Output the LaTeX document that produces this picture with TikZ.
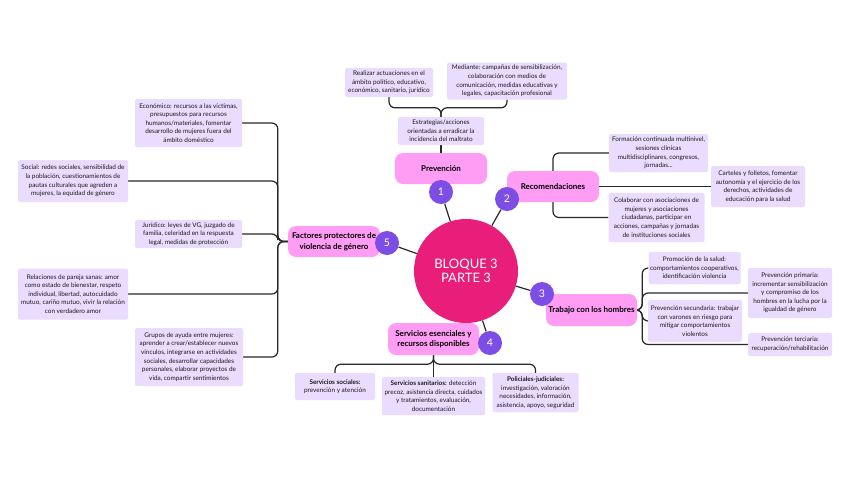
\documentclass[tikz,border=0pt]{standalone}
\usepackage{fontspec}
\setmainfont{Lato}
\definecolor{lav}{RGB}{234,220,255}
\definecolor{pinkb}{RGB}{255,156,244}
\definecolor{purp}{RGB}{124,78,230}
\definecolor{ctrpink}{RGB}{233,30,122}
\definecolor{lineg}{RGB}{40,40,40}
\pgfdeclarelayer{bg}
\pgfsetlayers{bg,main}
\begin{document}
\begin{tikzpicture}[x=1pt,y=-1pt,
  sub/.style={fill=lav, rounded corners=1.5pt, align=center, font=\fontsize{6.4}{8.6}\selectfont, inner sep=0.5pt, text=black!90},
  mainbox/.style={fill=pinkb, rounded corners=8pt, align=center, font=\fontsize{8}{10.5}\selectfont\bfseries, inner sep=0pt},
  num/.style={circle, fill=purp, minimum size=24pt, inner sep=0pt, text=white, font=\fontsize{10.5}{10.5}\selectfont},
  conn/.style={draw=lineg, line width=1.2pt, rounded corners=6pt},
  spoke/.style={draw=lineg, line width=1.2pt},
  sz/.style 2 args={minimum width=#1pt, minimum height=#2pt}]
\path[use as bounding box] (0,0) rectangle (848,477);

% central
\node[circle, fill=ctrpink, minimum size=104pt, inner sep=0pt, text=white, align=center,
  font=\fontsize{13}{13.5}\selectfont] (ctr) at (466,271) {BLOQUE 3\\PARTE 3};

% main boxes
\node[mainbox, sz={92}{31}] (prev) at (441,168.5) {Prevención};
\node[mainbox, sz={92}{31}] (rec) at (553,186.5) {Recomendaciones};
\node[mainbox, sz={91}{32}] (trab) at (591.5,310) {Trabajo con los hombres};
\node[mainbox, sz={91}{32}] (serv) at (433.5,339) {Servicios esenciales y\\recursos disponibles};
\node[mainbox, sz={92}{31}] (fact) at (334,241.5) {Factores protectores de\\violencia de género};

% number circles
\node[num] (c1) at (441,192) {1};
\node[num] (c2) at (507,199) {2};
\node[num] (c3) at (542,294) {3};
\node[num] (c4) at (490,343) {4};
\node[num] (c5) at (387,243) {5};
\draw[spoke] (c1) -- (ctr);
\draw[spoke] (c2) -- (ctr);
\draw[spoke] (c3) -- (ctr);
\draw[spoke] (c4) -- (ctr);
\draw[spoke] (c5) -- (ctr);

% Prevencion children
\node[sub, sz={86}{28}] (est) at (441,131) {Estrategias/acciones\\orientadas a erradicar la\\incidencia del maltrato};
\node[sub, sz={88}{29}] (real) at (389,82.5) {Realizar actuaciones en el\\ámbito político, educativo,\\económico, sanitario, jurídico};
\node[sub, sz={120}{37}] (med) at (507,81) {Mediante: campañas de sensibilización,\\colaboración con medios de\\comunicación, medidas educativas y\\legales, capacitación profesional};

% Recomendaciones children
\node[sub, sz={99}{38}] (form) at (658.5,153) {Formación continuada multinivel,\\sesiones clínicas\\multidisciplinares, congresos,\\jornadas...};
\node[sub, sz={94}{41}] (cart) at (758,186.5) {Carteles y folletos, fomentar\\autonomía y el ejercicio de los\\derechos, actividades de\\educación para la salud};
\node[sub, sz={96}{49}] (colab) at (656.5,217.5) {Colaborar con asociaciones de\\mujeres y asociaciones\\ciudadanas, participar en\\acciones, campañas y jornadas\\de instituciones sociales};

% Trabajo children
\node[sub, sz={92}{32}] (prom) at (694.5,268) {Promoción de la salud:\\comportamientos cooperativos,\\identificación violencia};
\node[sub, sz={84}{50}] (prim) at (790,293) {Prevención primaria:\\incrementar sensibilización\\y compromiso de los\\hombres en la lucha por la\\igualdad de género};
\node[sub, sz={94}{42}] (sec) at (695,321) {Prevención secundaria: trabajar\\con varones en riesgo para\\mitigar comportamientos\\violentos};
\node[sub, sz={84}{23}] (ter) at (790,344.5) {Prevención terciaria:\\recuperación/rehabilitación};

% Servicios children
\node[sub, sz={80}{27}] (ss) at (335,386.5) {\textbf{Servicios sociales:}\\prevención y atención};
\node[sub, sz={103}{38}] (san) at (433.5,396) {\textbf{Servicios sanitarios:} detección\\precoz, asistencia directa, cuidados\\y tratamientos, evaluación,\\documentación};
\node[sub, sz={86}{39}] (pol) at (535.5,392.5) {\textbf{Policiales-judiciales:}\\investigación, valoración\\necesidades, información,\\asistencia, apoyo, seguridad};

% Factores children
\node[sub, sz={107}{48}] (eco) at (188.5,123) {Económico: recursos a las víctimas,\\presupuestos para recursos\\humanos/materiales, fomentar\\desarrollo de mujeres fuera del\\ámbito doméstico};
\node[sub, sz={110}{42}] (soc) at (73,181) {Social: redes sociales, sensibilidad de\\la población, cuestionamientos de\\pautas culturales que agreden a\\mujeres, la equidad de género};
\node[sub, sz={107}{28}] (jur) at (188.5,234) {Jurídico: leyes de VG, juzgado de\\familia, celeridad en la respuesta\\legal, medidas de protección};
\node[sub, sz={110}{51}] (rel) at (73,294) {Relaciones de pareja sanas: amor\\como estado de bienestar, respeto\\individual, libertad, autocuidado\\mutuo, cariño mutuo, vivir la relación\\con verdadero amor};
\node[sub, sz={108}{58}] (grp) at (189,357) {Grupos de ayuda entre mujeres:\\aprender a crear/establecer nuevos\\vínculos, integrarse en actividades\\sociales, desarrollar capacidades\\personales, elaborar proyectos de\\vida, compartir sentimientos};

\begin{pgfonlayer}{bg}
  \fill[white] (0,0) rectangle (848,477);
  % Prevencion
  \draw[conn] (prev.north) -- (est.south);
  \draw[conn] (est.north) -- ++(0,-9) -| (real.south);
  \draw[conn] (est.north) -- ++(0,-9) -| (med.south);
  % Recomendaciones
  \draw[conn] (rec.center) |- (form.west);
  \draw[conn] (rec.center) -- (cart.west);
  \draw[conn] (rec.center) |- (colab.west);
  % Trabajo
  \draw[conn] (trab.east) -- ++(5,0) |- (prom.west);
  \draw[conn] (trab.east) -- ++(5,0) |- (prim.west);
  \draw[conn] (trab.east) -- ++(5,0) |- (sec.west);
  \draw[conn] (trab.east) -- ++(5,0) |- (ter.west);
  % Servicios
  \draw[conn] (serv.south) -- ++(0,9) -| (ss.north);
  \draw[conn] (serv.south) -- (san.north);
  \draw[conn] (serv.south) -- ++(0,9) -| (pol.north);
  % Factores
  \draw[conn] (fact.west) -- ++(-10,0) |- (eco.east);
  \draw[conn] (fact.west) -- ++(-10,0) |- (soc.east);
  \draw[conn] (fact.west) -- ++(-10,0) |- (jur.east);
  \draw[conn] (fact.west) -- ++(-10,0) |- (rel.east);
  \draw[conn] (fact.west) -- ++(-10,0) |- (grp.east);
\end{pgfonlayer}
\end{tikzpicture}
\end{document}
